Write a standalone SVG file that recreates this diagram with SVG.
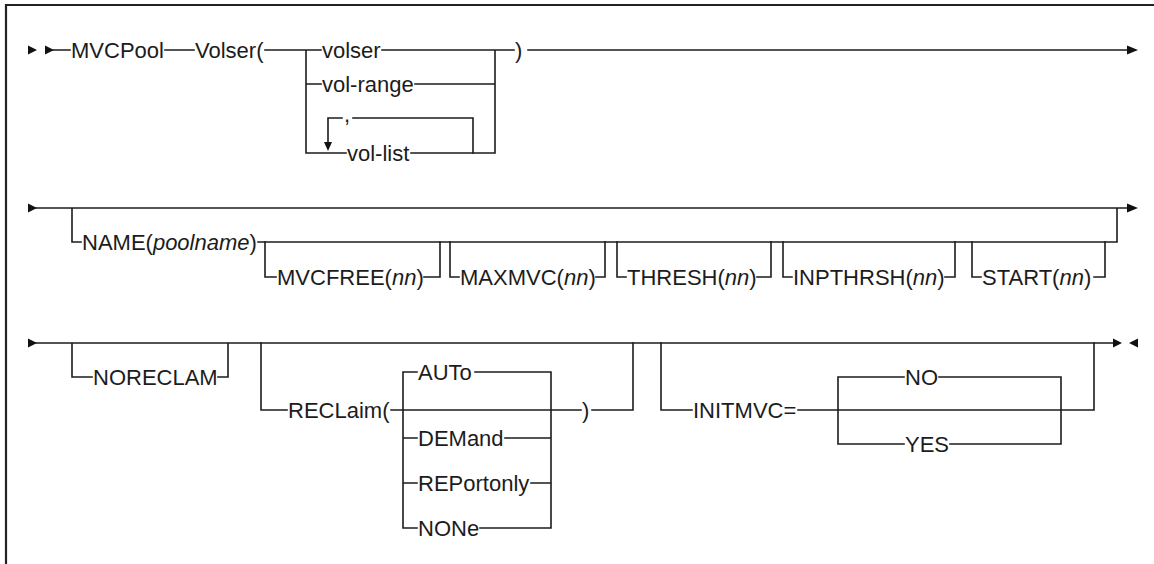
<svg xmlns="http://www.w3.org/2000/svg" width="1154" height="564" viewBox="0 0 1154 564">
<style>
.ln{fill:none;stroke:#1c1c1c;stroke-width:1.6;stroke-linecap:square}
.ar{fill:#111;stroke:none}
.t{font-family:"Liberation Sans",Arial,sans-serif;font-size:22px;fill:#1c1c1c}
.i{font-style:italic}
.frame{fill:none;stroke:#222;stroke-width:2.2}
</style>
<rect width="1154" height="564" fill="#fff"/>
<path class="frame" d="M6 564 V5 H1154"/>
<g id="connectors">
<!-- row 1 -->
<path class="ln" d="M53 50 H70 M165 50 H194 M265 50 H306 V153 M306 50 H321 M306 84 H321 M306 153 H346 M382 50 H495 V153 M415 84 H495 M411 153 H495 M495 50 H514 M528 50 H1127"/>
<path class="ln" d="M473 153 V118 H353 M342 118 H328 V143"/>
<!-- row 2 -->
<path class="ln" d="M36 208 H1127 M72 208 V242 H81 M258 242 H1117 V208"/>
<path class="ln" d="M265 242 V277 H276 M424 277 H440 V242 M450 242 V277 H459 M596 277 H605 V242 M617 242 V277 H626 M757 277 H771 V242 M783 242 V277 H792 M945 277 H955 V242 M972 242 V277 H981 M1094 277 H1105 V242"/>
<!-- row 3 -->
<path class="ln" d="M36 343 H1113 M72 343 V377 H92 M218 377 H228 V343"/>
<path class="ln" d="M261 343 V410 H287 M391 410 H581 M592 410 H633 V343"/>
<path class="ln" d="M403 372 V528 M551 372 V528 M403 372 H417 M475 372 H551 M403 438 H417 M505 438 H551 M403 483 H417 M531 483 H551 M403 528 H417 M480 528 H551"/>
<path class="ln" d="M661 343 V410 H692 M798 410 H1094 V343"/>
<path class="ln" d="M838 377 V444 M1061 377 V444 M838 377 H904 M939 377 H1061 M838 444 H904 M950 444 H1061"/>
<!-- arrowheads -->
<polygon class="ar" points="28,45.5 37,50 28,54.5"/>
<polygon class="ar" points="45,45.5 54,50 45,54.5"/>
<polygon class="ar" points="1127,45.5 1138,50 1127,54.5"/>
<polygon class="ar" points="324,142 332,142 328,151"/>
<polygon class="ar" points="28,203.5 37,208 28,212.5"/>
<polygon class="ar" points="1127,203.5 1138,208 1127,212.5"/>
<polygon class="ar" points="28,338.5 37,343 28,347.5"/>
<polygon class="ar" points="1113,338.5 1122,343 1113,347.5"/>
<polygon class="ar" points="1138,338.5 1129,343 1138,347.5"/>
</g>
<g id="n-mvcpool"><text class="t" x="71" y="58">MVCPool</text></g>
<g id="n-volser-kw"><text class="t" x="195" y="58">Volser(</text></g>
<g id="n-volser"><text class="t" x="322" y="58">volser</text></g>
<g id="n-volrange"><text class="t" x="322" y="92">vol-range</text></g>
<g id="n-comma"><text class="t" x="344" y="122">,</text></g>
<g id="n-vollist"><text class="t" x="347" y="161">vol-list</text></g>
<g id="n-close1"><text class="t" x="515" y="58">)</text></g>
<g id="n-name"><text class="t" x="82" y="250">NAME(<tspan class="i">poolname</tspan>)</text></g>
<g id="n-mvcfree"><text class="t" x="277" y="285">MVCFREE(<tspan class="i">nn</tspan>)</text></g>
<g id="n-maxmvc"><text class="t" x="460" y="285">MAXMVC(<tspan class="i">nn</tspan>)</text></g>
<g id="n-thresh"><text class="t" x="627" y="285">THRESH(<tspan class="i">nn</tspan>)</text></g>
<g id="n-inpthrsh"><text class="t" x="793" y="285">INPTHRSH(<tspan class="i">nn</tspan>)</text></g>
<g id="n-start"><text class="t" x="982" y="285">START(<tspan class="i">nn</tspan>)</text></g>
<g id="n-noreclam"><text class="t" x="93" y="385">NORECLAM</text></g>
<g id="n-reclaim"><text class="t" x="288" y="418">RECLaim(</text></g>
<g id="n-close2"><text class="t" x="582" y="418">)</text></g>
<g id="n-auto"><text class="t" x="418" y="380">AUTo</text></g>
<g id="n-demand"><text class="t" x="418" y="446">DEMand</text></g>
<g id="n-reportonly"><text class="t" x="418" y="491">REPortonly</text></g>
<g id="n-none"><text class="t" x="418" y="536">NONe</text></g>
<g id="n-initmvc"><text class="t" x="693" y="418">INITMVC=</text></g>
<g id="n-no"><text class="t" x="905" y="385">NO</text></g>
<g id="n-yes"><text class="t" x="905" y="452">YES</text></g>
</svg>
